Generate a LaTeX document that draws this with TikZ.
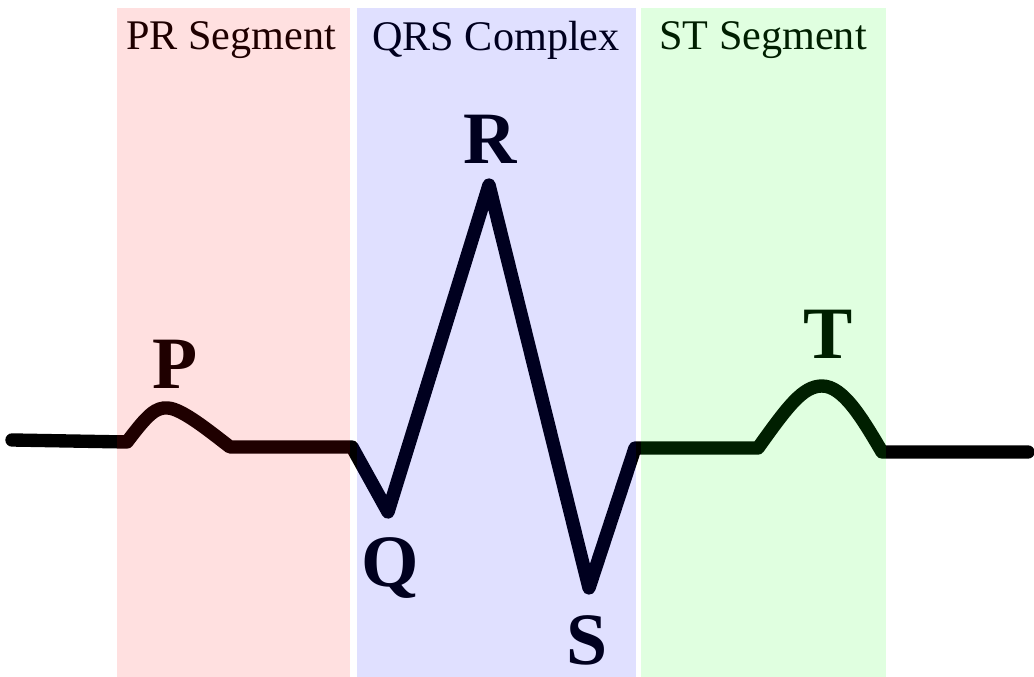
\documentclass[tikz,border=0pt]{standalone}
\usepackage{fontspec}
\setmainfont{Liberation Serif}
\usepackage{xcolor}

\begin{document}
\begin{tikzpicture}[x=0.01cm, y=-0.01cm,
    trace/.style={line width=3.8pt, black, line cap=round, line join=round},
    wave/.style={font=\fontsize{21}{21}\selectfont\bfseries, inner sep=1pt},
    band/.style={font=\fontsize{12}{12}\selectfont}]

        \useasboundingbox (0,0) rectangle (1034,677);

        % Define points of the trace
        \coordinate (L0) at (12, 440);     % Left end
        \coordinate (P0) at (127, 442);    % P wave start
        \coordinate (P1) at (168, 408);    % P peak
        \coordinate (P2) at (230, 447);    % P wave end
        \coordinate (Q0) at (352, 447);    % Q wave start
        \coordinate (Q1) at (388, 512);    % Q
        \coordinate (R1) at (489, 185);    % R
        \coordinate (S1) at (589, 588);    % S
        \coordinate (S2) at (635, 448);    % J point
        \coordinate (T0) at (758, 448);    % T wave start
        \coordinate (T1) at (822, 386);    % T peak
        \coordinate (T2) at (882, 452);    % T wave end
        \coordinate (L1) at (1028, 452);   % Right end

        % Draw the trace
        \draw[trace] (L0) -- (P0) .. controls (148, 414) and (156, 407) .. (P1)
            .. controls (182, 409) and (208, 430) .. (P2) -- (Q0) -- (Q1)
            -- (R1) -- (S1) -- (S2) -- (T0)
            .. controls (788, 406) and (803, 386) .. (T1)
            .. controls (843, 386) and (862, 418) .. (T2) -- (L1);

        % Label the waves
        \node[wave] (p) at (175, 364) {P};
        \node[wave] (q) at (390, 568) {Q};
        \node[wave] (r) at (490, 139) {R};
        \node[wave] (s) at (587, 640) {S};
        \node[wave] (t) at (828, 334) {T};

        % Label the bands
        \node[band] (pr) at (231, 40) {PR Segment};
        \node[band] (qrs) at (496, 40) {QRS Complex};
        \node[band] (st) at (763, 40) {ST Segment};

        % Tinted bands on top
        \fill[red, fill opacity=0.12] (117, 8) rectangle (350, 677);
        \fill[blue, fill opacity=0.12] (357, 8) rectangle (636, 677);
        \fill[green, fill opacity=0.12] (641, 8) rectangle (886, 677);

\end{tikzpicture}
\end{document}
